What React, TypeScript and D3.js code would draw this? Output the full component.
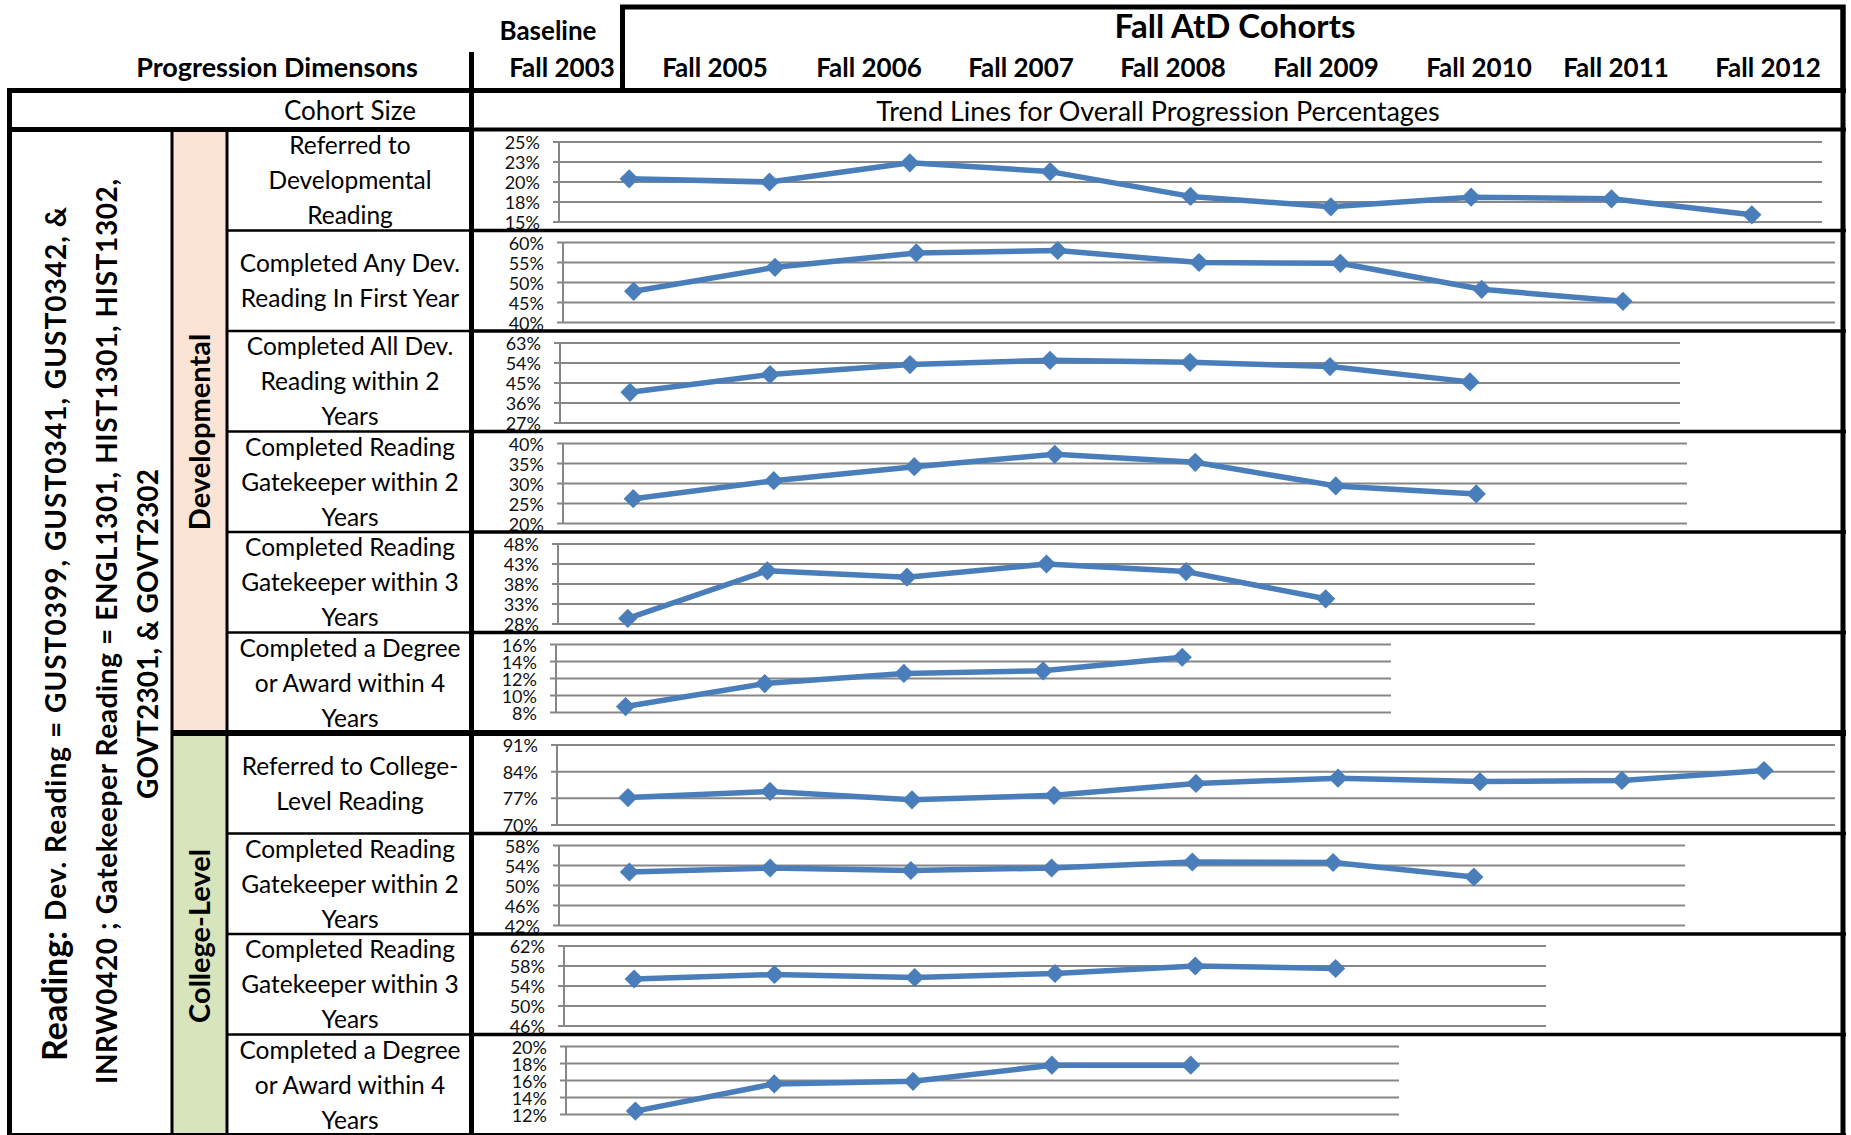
import React from 'react';
import * as d3 from 'd3';

// cohorts (x categories) shared by every trend panel
const cohorts = ['Fall 2003', 'Fall 2005', 'Fall 2006', 'Fall 2007', 'Fall 2008', 'Fall 2009', 'Fall 2010', 'Fall 2011', 'Fall 2012'];
const atdHeaders = cohorts.slice(1);

// values, in percent
const refDevReading = [20.4, 20.0, 22.4, 21.3, 18.2, 16.9, 18.1, 17.9, 15.9];
const anyDevFirstYear = [47.8, 53.8, 57.4, 58.0, 55.0, 54.8, 48.3, 45.3];
const allDevTwoYears = [40.8, 48.8, 53.3, 55.2, 54.3, 52.4, 45.5];
const devGatekeeperTwo = [26.2, 30.7, 34.2, 37.3, 35.3, 29.4, 27.4];
const devGatekeeperThree = [29.4, 41.3, 39.7, 43.0, 41.1, 34.3];
const devDegreeFour = [8.7, 11.4, 12.6, 12.9, 14.5];
const refCollegeReading = [77.2, 78.8, 76.6, 77.8, 80.9, 82.3, 81.4, 81.7, 84.3];
const colGatekeeperTwo = [52.7, 53.5, 53.0, 53.5, 54.7, 54.6, 51.7];
const colGatekeeperThree = [55.4, 56.3, 55.7, 56.5, 58.0, 57.5];
const colDegreeFour = [12.4, 15.6, 15.9, 17.8, 17.8];

const panelValues = [
  refDevReading, anyDevFirstYear, allDevTwoYears, devGatekeeperTwo, devGatekeeperThree,
  devDegreeFour, refCollegeReading, colGatekeeperTwo, colGatekeeperThree, colDegreeFour,
];

// y axis min/max and tick step per panel
const yDomains: [number, number][] = [
  [15, 25], [40, 60], [27, 63], [20, 40], [28, 48], [8, 16], [70, 91], [42, 58], [46, 62], [12, 20],
];
const yTickSteps = [2.5, 5, 9, 5, 5, 2, 7, 4, 4, 2];

const rowLabels = [
  ['Referred to', 'Developmental', 'Reading'],
  ['Completed Any Dev.', 'Reading In First Year'],
  ['Completed All Dev.', 'Reading within 2', 'Years'],
  ['Completed Reading', 'Gatekeeper within 2', 'Years'],
  ['Completed Reading', 'Gatekeeper within 3', 'Years'],
  ['Completed a Degree', 'or Award within 4', 'Years'],
  ['Referred to College-', 'Level Reading'],
  ['Completed Reading', 'Gatekeeper within 2', 'Years'],
  ['Completed Reading', 'Gatekeeper within 3', 'Years'],
  ['Completed a Degree', 'or Award within 4', 'Years'],
];

// layout of each little chart (category slots, plot edges, plot height)
const panelSlots = [9, 9, 8, 8, 7, 6, 9, 8, 7, 6];
const plotLefts = [559, 563, 560, 563, 558, 556, 557, 559, 564, 566];
const plotRights = [1822, 1835, 1680, 1687, 1535, 1391, 1835, 1685, 1546, 1399];
const plotHeights = [80, 80, 80, 80, 80, 68, 80, 80, 80, 68];
const headerCenters = [715, 869, 1021, 1173, 1326, 1479, 1616, 1768];

const W = 1851;
const H = 1135;
const ROW_TOP = 130;
const ROW_H = 100.5;
const FONT = "Lato, 'Open Sans', sans-serif";
const BLUE = '#4A7EBB';

function Panel({ i }: { i: number }) {
  const top = ROW_TOP + i * ROW_H + 12;
  const [lo, hi] = yDomains[i];
  const y = d3.scaleLinear().domain([lo, hi]).range([top + plotHeights[i], top]);
  const x = d3
    .scaleBand()
    .domain(cohorts.slice(0, panelSlots[i]))
    .range([plotLefts[i], plotRights[i]]);
  const ticks = d3.range(lo, hi + yTickSteps[i] / 2, yTickSteps[i]);
  const values = panelValues[i];
  const cx = (j: number) => (x(cohorts[j]) as number) + x.bandwidth() / 2;
  const line = d3
    .line<number>()
    .x((_, j) => cx(j))
    .y((d) => y(d));
  const marker = d3.symbol().type(d3.symbolSquare).size(185)();

  return (
    <g>
      {ticks.map((t) => (
        <g key={t}>
          <line x1={plotLefts[i] - 6} x2={plotRights[i]} y1={y(t)} y2={y(t)} stroke="#878787" strokeWidth={2} />
          <text
            x={plotLefts[i] - 19}
            y={y(t)}
            textAnchor="end"
            dominantBaseline="central"
            fontSize={18}
            fill="#111"
          >
            {Math.round(t)}%
          </text>
        </g>
      ))}
      <line x1={plotLefts[i]} x2={plotLefts[i]} y1={y(lo)} y2={y(hi)} stroke="#878787" strokeWidth={2} />
      <path d={line(values) || ''} fill="none" stroke={BLUE} strokeWidth={5.5} strokeLinejoin="round" />
      {values.map((v, j) => (
        <path key={j} d={marker || ''} transform={`translate(${cx(j)},${y(v)}) rotate(45)`} fill={BLUE} />
      ))}
    </g>
  );
}

export default function App() {
  const seps = d3.range(1, 10).map((k) => ROW_TOP + k * ROW_H);
  return (
    <svg
      width={W}
      height={H}
      viewBox={`0 0 ${W} ${H}`}
      style={{ position: 'absolute', left: 0, top: 0, background: '#fff' }}
      fontFamily={FONT}
    >
      <rect width={W} height={H} fill="#fff" />

      {/* coloured side cells */}
      <rect x={172} y={ROW_TOP} width={55} height={6 * ROW_H} fill="#FBE4D5" />
      <rect x={172} y={ROW_TOP + 6 * ROW_H} width={55} height={H - ROW_TOP - 6 * ROW_H} fill="#D7E4BC" />

      {/* header texts */}
      <g fontWeight="bold" fill="#000" textAnchor="middle">
        <text x={277} y={77} fontSize={27}>Progression Dimensons</text>
        <text x={548} y={40} fontSize={26}>Baseline</text>
        <text x={562} y={77} fontSize={26}>{cohorts[0]}</text>
        <text x={1235} y={38} fontSize={33}>Fall AtD Cohorts</text>
        {atdHeaders.map((c, k) => (
          <text key={c} x={headerCenters[k]} y={77} fontSize={26}>{c}</text>
        ))}
      </g>
      <g fill="#000" textAnchor="middle">
        <text x={350} y={110} dominantBaseline="central" fontSize={26}>Cohort Size</text>
        <text x={1158} y={110} dominantBaseline="central" fontSize={27}>
          Trend Lines for Overall Progression Percentages
        </text>
      </g>

      {/* row labels */}
      <g fill="#000" textAnchor="middle" fontSize={24.5}>
        {rowLabels.map((lines, r) => {
          const c = ROW_TOP + r * ROW_H + ROW_H / 2;
          return lines.map((s, k) => (
            <text key={`${r}-${k}`} x={350} y={c + 9 + (k - (lines.length - 1) / 2) * 35}>{s}</text>
          ));
        })}
      </g>

      {/* rotated side texts */}
      <g fontWeight="bold" fill="#000" style={{ whiteSpace: 'pre' }}>
        <text transform="translate(67,1061) rotate(-90)" fontSize={34}>Reading:</text>
        <text transform="translate(66,921) rotate(-90)" fontSize={28} textLength={714}>
          Dev. Reading = GUST0399, GUST0341, GUST0342, &amp;
        </text>
        <text transform="translate(117,1084) rotate(-90)" fontSize={28} textLength={905}>
          INRW0420 ; Gatekeeper Reading  =  ENGL1301, HIST1301, HIST1302,
        </text>
        <text transform="translate(158,799) rotate(-90)" fontSize={28} textLength={330}>
          GOVT2301, &amp; GOVT2302
        </text>
        <text transform="translate(210,432) rotate(-90)" fontSize={29} textAnchor="middle">Developmental</text>
        <text transform="translate(210,936) rotate(-90)" fontSize={29} textAnchor="middle">College-Level</text>
      </g>

      {/* trend panels */}
      {panelValues.map((_, i) => (
        <Panel key={i} i={i} />
      ))}

      {/* table rules */}
      <g stroke="#000" fill="none">
        <rect x={622.5} y={7} width={1843 - 622.5} height={83.5} strokeWidth={5} />
        <line x1={7} x2={1846} y1={90.5} y2={90.5} strokeWidth={5} />
        <line x1={9.5} x2={9.5} y1={88} y2={H} strokeWidth={5} />
        <line x1={1843} x2={1843} y1={5} y2={H} strokeWidth={5} />
        <line x1={471.5} x2={471.5} y1={52} y2={H} strokeWidth={5} />
        <line x1={7} x2={472} y1={129.5} y2={129.5} strokeWidth={5} />
        <line x1={472} x2={1846} y1={129.5} y2={129.5} strokeWidth={4} />
        <line x1={172} x2={172} y1={ROW_TOP} y2={H} strokeWidth={3} />
        <line x1={227} x2={227} y1={ROW_TOP} y2={H} strokeWidth={3} />
        {seps.map((s, k) =>
          k === 5 ? (
            <line key={k} x1={172} x2={1846} y1={s} y2={s} strokeWidth={6} />
          ) : (
            <g key={k}>
              <line x1={227} x2={472} y1={s} y2={s} strokeWidth={2.5} />
              <line x1={472} x2={1846} y1={s} y2={s} strokeWidth={3.5} />
            </g>
          )
        )}
        <line x1={7} x2={1846} y1={H - 1} y2={H - 1} strokeWidth={2} />
      </g>
    </svg>
  );
}
